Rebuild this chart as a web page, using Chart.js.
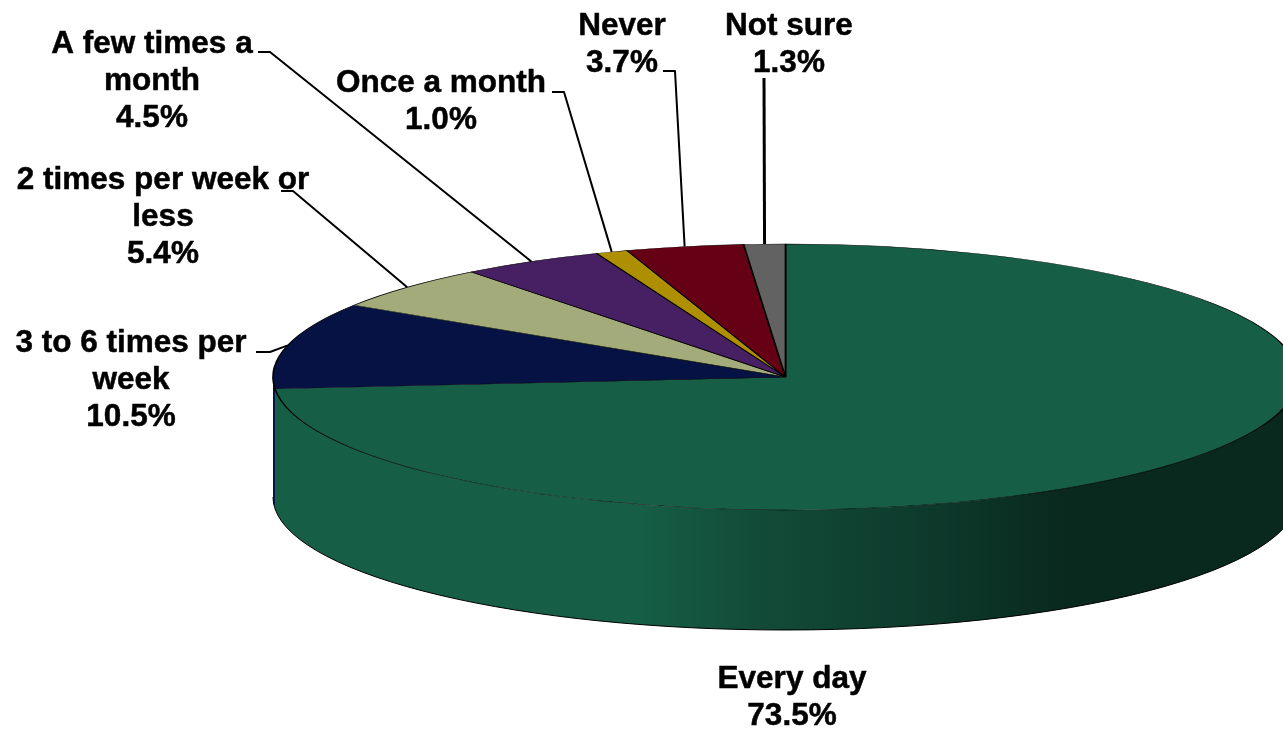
<!DOCTYPE html>
<html>
<head>
<meta charset="utf-8">
<title>Frequency</title>
<script src="https://cdn.jsdelivr.net/npm/chart.js@4"></script>
<style>
    html, body { margin: 0; padding: 0; background: #fff; overflow: hidden; }
    canvas { display: block; }
</style>
</head>
<body>
<canvas id="myChart" width="1283" height="729"></canvas>
<script>
const categories = ['Every day', '3 to 6 times per week', '2 times per week or less', 'A few times a month', 'Once a month', 'Never', 'Not sure'];
const values = [73.5, 10.5, 5.4, 4.5, 1.0, 3.7, 1.3];
const colors = ['#165E46', '#061244', '#A3AB7B', '#472063', '#AD8F00', '#660014', '#626262'];

// wrapped label text, centre of the block and where the leader line leaves it
const labelLines = [['Every day'], ['3 to 6 times per', 'week'], ['2 times per week or', 'less'], ['A few times a', 'month'], ['Once a month'], ['Never'], ['Not sure']];
const labelX = [792, 131, 163, 152, 441, 622, 789];
const labelY = [679, 343, 180, 44, 83, 26, 26];
const lineGap = 37;
const leaderElbows = [null, [[256, 352], [270, 352]], [[281, 191], [293, 191]], [[258, 52], [270, 52]], [[552, 92], [564, 92]], [[663, 71], [675, 71]], [[764, 78]]];
const leaderWidths = [0, 2, 2, 2, 2, 2, 3];

// the flattened disc
const cx = 785.5, cy = 377, rx = 512.5, ry = 133, depth = 120;

// side wall shading, left to right
const wallStops = [0, 0.358, 0.475, 0.61, 0.78, 1];
const wallShade = [1, 1, 0.8, 0.65, 0.43, 0.43];

function shade(hex, f) {
    const n = parseInt(hex.slice(1), 16);
    const c = [n >> 16, (n >> 8) & 255, n & 255].map(v => Math.round(v * f));
    return `rgb(${c[0]},${c[1]},${c[2]})`;
}

const disc3d = {
    id: 'disc3d',
    beforeDatasetsDraw(chart) {
        const ctx = chart.ctx;
        const arcs = chart.getDatasetMeta(0).data;
        arcs.forEach((arc, i) => {
            const a0 = Math.max(arc.startAngle, 0);
            const a1 = Math.min(arc.endAngle, Math.PI);
            if (a1 <= a0) return;
            const g = ctx.createLinearGradient(cx - rx, 0, cx + rx, 0);
            wallStops.forEach((s, k) => g.addColorStop(s, shade(colors[i], wallShade[k])));
            ctx.beginPath();
            ctx.ellipse(cx, cy, rx, ry, 0, a0, a1);
            ctx.ellipse(cx, cy + depth, rx, ry, 0, a1, a0, true);
            ctx.closePath();
            ctx.fillStyle = g;
            ctx.fill();
            ctx.strokeStyle = '#000';
            ctx.lineWidth = 1;
            ctx.beginPath();
            ctx.ellipse(cx, cy + depth, rx, ry, 0, a0, a1);
            ctx.stroke();
        });
    },
    beforeDatasetDraw(chart) {
        const ctx = chart.ctx;
        const arc = chart.getDatasetMeta(0).data[0];
        ctx.save();
        ctx.translate(cx, cy);
        ctx.scale(rx / arc.outerRadius, ry / arc.outerRadius);
        ctx.translate(-arc.x, -arc.y);
    },
    afterDatasetDraw(chart) {
        chart.ctx.restore();
    },
    afterDatasetsDraw(chart) {
        const ctx = chart.ctx;
        const arcs = chart.getDatasetMeta(0).data;
        ctx.strokeStyle = '#000';
        ctx.lineJoin = 'round';
        arcs.forEach((arc, i) => {
            if (!leaderElbows[i]) return;
            const mid = (arc.startAngle + arc.endAngle) / 2;
            ctx.lineWidth = leaderWidths[i];
            ctx.beginPath();
            leaderElbows[i].forEach((p, k) => k ? ctx.lineTo(p[0], p[1]) : ctx.moveTo(p[0], p[1]));
            ctx.lineTo(cx + rx * Math.cos(mid), cy + ry * Math.sin(mid));
            ctx.stroke();
        });
        ctx.fillStyle = '#000';
        ctx.font = 'bold 31.5px "Liberation Sans", Arial, sans-serif';
        ctx.textAlign = 'center';
        ctx.textBaseline = 'middle';
        ctx.lineWidth = 0.5;
        categories.forEach((name, i) => {
            const lines = labelLines[i].concat(values[i].toFixed(1) + '%');
            lines.forEach((t, k) => {
                ctx.fillText(t, labelX[i], labelY[i] + k * lineGap);
                ctx.strokeText(t, labelX[i], labelY[i] + k * lineGap);
            });
        });
    }
};

document.addEventListener('DOMContentLoaded', () => {
    const ctx = document.getElementById('myChart').getContext('2d');
    const myChart = new Chart(ctx, {
        type: 'pie',
        data: {
            labels: categories,
            datasets: [{
                data: values,
                backgroundColor: colors,
                borderColor: '#000',
                borderWidth: 1.2,
                clip: false
            }]
        },
        options: {
            responsive: false,
            animation: false,
            plugins: {
                legend: { display: false },
                tooltip: { enabled: false }
            }
        },
        plugins: [disc3d]
    });
});
</script>
</body>
</html>
